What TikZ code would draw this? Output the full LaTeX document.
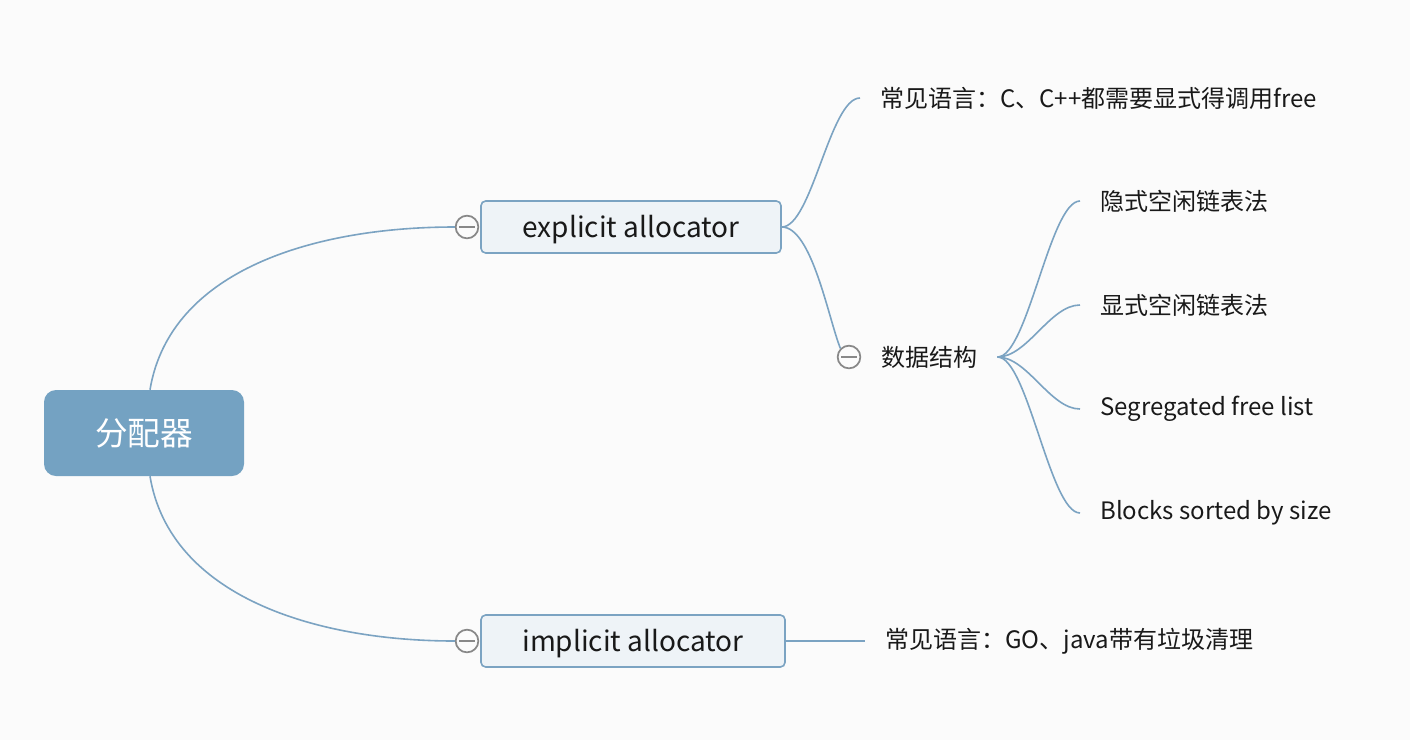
\documentclass[tikz,border=0pt]{standalone}
\usepackage{fontspec}
\setmainfont{Noto Sans CJK SC}
\usetikzlibrary{positioning}
\definecolor{branch}{HTML}{7BA3C2}
\definecolor{rootfill}{HTML}{74A2C2}
\definecolor{boxfill}{HTML}{EEF3F7}
\definecolor{togglegray}{HTML}{888888}
\definecolor{paper}{HTML}{FBFBFB}

\begin{document}
\begin{tikzpicture}[x=0.75pt,y=-0.75pt,
    rootbox/.style={rounded corners=9pt,fill=rootfill,text=white,
      minimum width=150pt,minimum height=64.5pt,
      font=\fontsize{24.5pt}{28pt}\selectfont},
    mainbox/.style={rounded corners=3.5pt,draw=branch,line width=1.2pt,fill=boxfill,
      minimum height=39pt,text height=21pt,text depth=5pt,
      font=\fontsize{21pt}{25pt}\selectfont,text=black!90},
    leaf/.style={anchor=west,inner xsep=15pt,inner ysep=2pt,
      font=\fontsize{18pt}{21pt}\selectfont,text=black!90},
    toggle/.style={circle,draw=togglegray,line width=1.3pt,fill=paper,
      minimum size=17pt,inner sep=0pt,
      path picture={\draw[togglegray,line width=1.3pt]
        ([xshift=-6pt]path picture bounding box.center) --
        ([xshift=6pt]path picture bounding box.center);}},
    link/.style={branch,line width=1.2pt}]
  \fill[paper] (0,0) rectangle (1410,740);
  \useasboundingbox (0,0) rectangle (1410,740);

  % main nodes
  \node[rootbox] (root) at (144,433) {分配器};
  \node[mainbox,minimum width=225pt] (explicit) at (631,227) {explicit allocator};
  \node[mainbox,minimum width=228pt] (implicit) at (633,641) {implicit allocator};
  \node[toggle] (tgexp) at (467,227) {};
  \node[toggle] (tgimp) at (467,641) {};

  % leaves
  \node[leaf] (lang1) at (860,98) {常见语言：C、C++都需要显式得调用free};
  \node[toggle] (tgds) at (849,357) {};
  \node[leaf] (ds) at (861,357) {数据结构};
  \node[leaf] (lang2) at (865,641) {常见语言：GO、java带有垃圾清理};

  % root branches
  \draw[link] ([xshift=4.5pt]root.north) .. controls +(20,-120) and +(-140,0) .. (tgexp.west);
  \draw[link] ([xshift=4.5pt]root.south) .. controls +(20,120) and +(-140,0) .. (tgimp.west);

  \draw[link] (explicit.east) .. controls +(30,0) and +(-30,0) .. (lang1.west);
  \draw[link] (explicit.east) .. controls +(30,0) and +(-12,-30) .. (tgds.north west);
  \draw[link] (implicit.east) -- (lang2.west);

  % data structures
  \foreach \i/\y/\t in {1/201/隐式空闲链表法,2/305/显式空闲链表法,
      3/409/Segregated free list,4/513/Blocks sorted by size} {
    \node[leaf] (ds\i) at (1080,\y) {\t};
    \draw[link] (ds.east) .. controls +(30,0) and +(-30,0) .. (ds\i.west);
  }
\end{tikzpicture}
\end{document}
